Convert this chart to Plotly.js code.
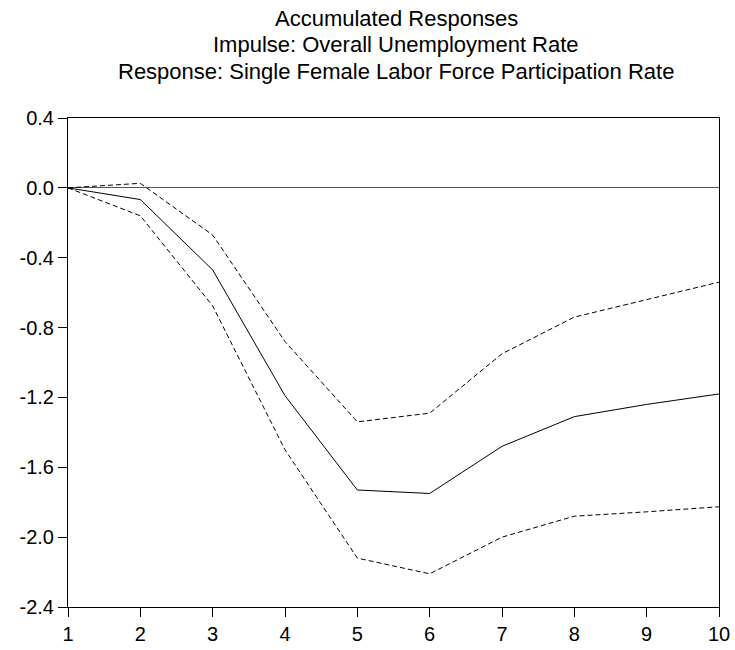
<!DOCTYPE html>
<html>
<head>
<meta charset="utf-8">
<script src="https://cdn.plot.ly/plotly-3.0.1.min.js"></script>
<style>body{margin:0;background:#fff}#chart{width:735px;height:650px}</style>
</head>
<body>
<div id="chart"></div>
<script>
const periods = [1, 2, 3, 4, 5, 6, 7, 8, 9, 10];
const response = [0, -0.067, -0.47, -1.19, -1.73, -1.75, -1.48, -1.31, -1.24, -1.18];
const upperBand = [0, 0.026, -0.27, -0.88, -1.34, -1.29, -0.95, -0.74, -0.64, -0.54];
const lowerBand = [0, -0.16, -0.676, -1.50, -2.12, -2.21, -2.0, -1.88, -1.855, -1.826];
const yTicks = [0.4, 0.0, -0.4, -0.8, -1.2, -1.6, -2.0, -2.4];
const yTickText = ["0.4", "0.0", "-0.4", "-0.8", "-1.2", "-1.6", "-2.0", "-2.4"];
const titleLines = [
  "Accumulated Responses",
  "Impulse: Overall Unemployment Rate",
  "Response: Single Female Labor Force Participation Rate"
];

const traces = [
  {x: periods, y: upperBand, mode: 'lines', line: {color: '#000', width: 1, dash: '5px,3px'}, hoverinfo: 'skip'},
  {x: periods, y: lowerBand, mode: 'lines', line: {color: '#000', width: 1, dash: '5px,3px'}, hoverinfo: 'skip'},
  {x: periods, y: response, mode: 'lines', line: {color: '#000', width: 1}, hoverinfo: 'skip'}
];

const titleY = [1.2025, 1.1493, 1.0961];
const annotations = titleLines.map((t, i) => ({
  text: t, xref: 'paper', yref: 'paper', x: 0.504, y: titleY[i],
  xanchor: 'center', yanchor: 'middle', showarrow: false,
  font: {size: 22, color: '#000', family: 'Liberation Sans, Arial, sans-serif'}
}));

const layout = {
  width: 735, height: 650,
  margin: {l: 68, r: 16, t: 118, b: 43},
  paper_bgcolor: '#fff', plot_bgcolor: '#fff',
  showlegend: false,
  font: {family: 'Liberation Sans, Arial, sans-serif', color: '#000'},
  annotations: annotations,
  xaxis: {
    range: [1, 10], tickvals: periods, ticks: 'outside', ticklen: 9, tickcolor: '#000',
    showline: true, linecolor: '#000', linewidth: 1, mirror: true,
    showgrid: false, zeroline: false, tickfont: {size: 20}
  },
  yaxis: {
    range: [-2.4, 0.4], tickvals: yTicks, ticktext: yTickText, ticks: 'outside', ticklen: 9, tickcolor: '#000',
    showline: true, linecolor: '#000', linewidth: 1, mirror: true,
    showgrid: false, zeroline: true, zerolinecolor: '#555', zerolinewidth: 1, tickfont: {size: 20}
  }
};

Plotly.newPlot('chart', traces, layout, {displayModeBar: false, staticPlot: true});
</script>
</body>
</html>
